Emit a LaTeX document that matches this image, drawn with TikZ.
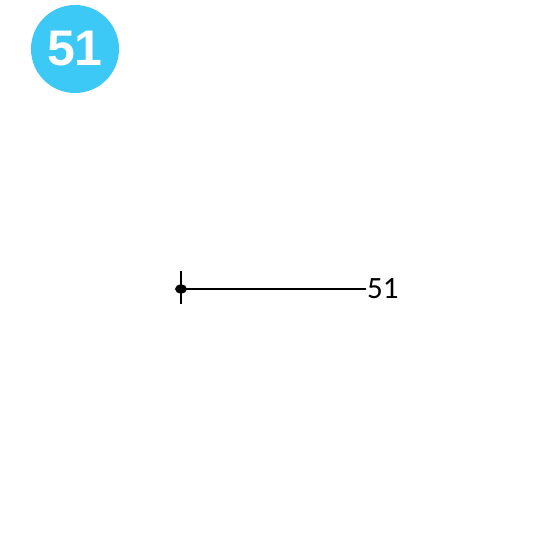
\documentclass[tikz,border=0pt]{standalone}
\usepackage{fontspec}
\setmainfont{Carlito}
\newfontfamily\badgefont{Liberation Sans}
\usepackage{tikz}
\usetikzlibrary{positioning}
\definecolor{badgeblue}{HTML}{3CC9F5}

\begin{document}
\begin{tikzpicture}[x=1pt,y=-1pt,
                    badge/.style={circle,fill=badgeblue,text=white,minimum size=88pt,inner sep=0pt,font=\badgefont\bfseries\fontsize{50}{50}\selectfont},
                    tag/.style={inner sep=1pt,font=\fontsize{31}{31}\selectfont}]
  \useasboundingbox (0,0) rectangle (550,550);

  \node[badge] (num) at (75,49) {51};

  \coordinate (pin) at (181,289);
  \node[tag,anchor=west] (lbl) at (366,289) {51};

  \draw[line width=2.6pt] (pin) -- (lbl.west);
  \draw[line width=2pt] (181,271) -- (181,304);
  \fill (pin) ellipse (6pt and 4.5pt);
\end{tikzpicture}
\end{document}
